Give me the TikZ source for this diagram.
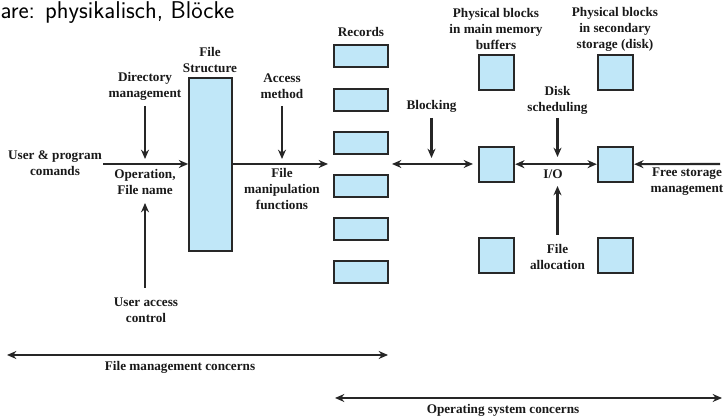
\documentclass[tikz,border=0pt]{standalone}
\usepackage{fontspec}
\setmainfont{Liberation Serif}
\usetikzlibrary{arrows.meta}

\definecolor{blockfill}{RGB}{192,231,248}
\definecolor{blockline}{RGB}{40,40,40}

\tikzset{every picture/.style={line width=0.75pt}}
\tikzset{
  blk/.style={draw=blockline, fill=blockfill, line width=1.5pt, inner sep=0pt},
  lbl/.style={font=\fontsize{9.9}{12}\selectfont\bfseries, align=center, inner sep=0.75pt, text=black!90},
  arr/.style={-{Stealth[length=7pt,width=6pt]}, line width=1.6pt, draw=black!85},
  darr/.style={{Stealth[length=7pt,width=6pt]}-{Stealth[length=7pt,width=6pt]}, line width=1.6pt, draw=black!85}
}

\begin{document}
\begin{tikzpicture}[x=0.75pt,y=0.75pt,yscale=-1,xscale=1]
\useasboundingbox (0,0) rectangle (725,416);

% slide title (cut off on the left)
\node (title) [anchor=base west, inner sep=0pt, font=\fontsize{18.2}{20}\selectfont\sffamily] at (0,18.5) {are: physikalisch, Bl\"ocke};

% file structure
\node (fs) [blk, minimum width=32pt, minimum height=129.5pt] at (210.5,164.5) {};
\node (fslbl) [lbl] at (210,60) {File\\Structure};

% records
\foreach \i/\y in {1/56.5,2/99.7,3/142.9,4/186.1,5/229.3,6/272.5}
  \node (rec\i) [blk, minimum width=40pt, minimum height=16.5pt] at (361,\y) {};
\node (reclbl) [lbl] at (361,32) {Records};

% physical blocks
\foreach \i/\y in {1/72.5,2/164.2,3/255.5}{
  \node (mm\i) [blk, minimum size=26.5pt] at (496.5,\y) {};
  \node (ss\i) [blk, minimum size=26.5pt] at (615.5,\y) {};
}
\node (mmlbl) [lbl] at (496,29) {Physical blocks\\in main memory\\buffers};
\node (sslbl) [lbl] at (615,29) {Physical blocks\\in secondary\\storage (disk)};

% Text Node
\node (ucmd) [lbl] at (55,163) {User \& program\\comands};
\node (dirm) [lbl] at (145,86) {Directory\\management};
\node (opfn) [lbl] at (145,181.5) {Operation,\\File name};
\node (uacc) [lbl] at (146,310) {User access\\control};
\node (accm) [lbl] at (282,86) {Access\\method};
\node (fman) [lbl] at (282,189) {File\\manipulation\\functions};
\node (blkg) [lbl] at (431.5,106) {Blocking};
\node (dsch) [lbl] at (557.5,100) {Disk\\scheduling};
\node (io) [lbl] at (553,174) {I/O};
\node (falloc) [lbl] at (557.5,257) {File\\allocation};
\node (fsm) [lbl] at (687,181.5) {Free storage\\management};
\node (fmc) [lbl] at (180,367) {File management concerns};
\node (osc) [lbl] at (503,410) {Operating system concerns};

% free ends
\coordinate (cmdin) at (103,164);
\coordinate (recin) at (328,164);
\coordinate (dirtop) at (145,106);
\coordinate (dirbot) at (145,159);
\coordinate (uacbot) at (145,288);
\coordinate (uactop) at (145,203);
\coordinate (acctop) at (282,106);
\coordinate (accbot) at (282,159);
\coordinate (blkl) at (392,164);
\coordinate (blkr) at (473,164);
\coordinate (blktop) at (431.5,118);
\coordinate (blkbot) at (431.5,158);
\coordinate (dsbot) at (557.5,157);
\coordinate (dstop) at (557.5,118);
\coordinate (fabot) at (557.5,235);
\coordinate (fatop) at (557.5,186);
\coordinate (fsmin) at (720,164);
\coordinate (fmcl) at (7,355);
\coordinate (fmcr) at (388,355);
\coordinate (oscl) at (335,398);
\coordinate (oscr) at (722,398);

% connectors
\draw [arr] (cmdin) -- (fs.west |- cmdin);
\draw [arr] (fs.east |- recin) -- (recin);
\draw [arr] (dirtop) -- (dirbot);
\draw [arr] (uacbot) -- (uactop);
\draw [arr] (acctop) -- (accbot);
\draw [darr] (blkl) -- (blkr);
\draw [arr] (blktop) -- (blkbot);
\draw [darr] (mm2.east) -- (ss2.west);
\draw [arr] (dstop) -- (dsbot);
\draw [arr] (fabot) -- (fatop);
\draw [arr] (fsmin) -- (ss2.east);
\draw [darr] (fmcl) -- (fmcr);
\draw [darr] (oscl) -- (oscr);

\end{tikzpicture}
\end{document}
